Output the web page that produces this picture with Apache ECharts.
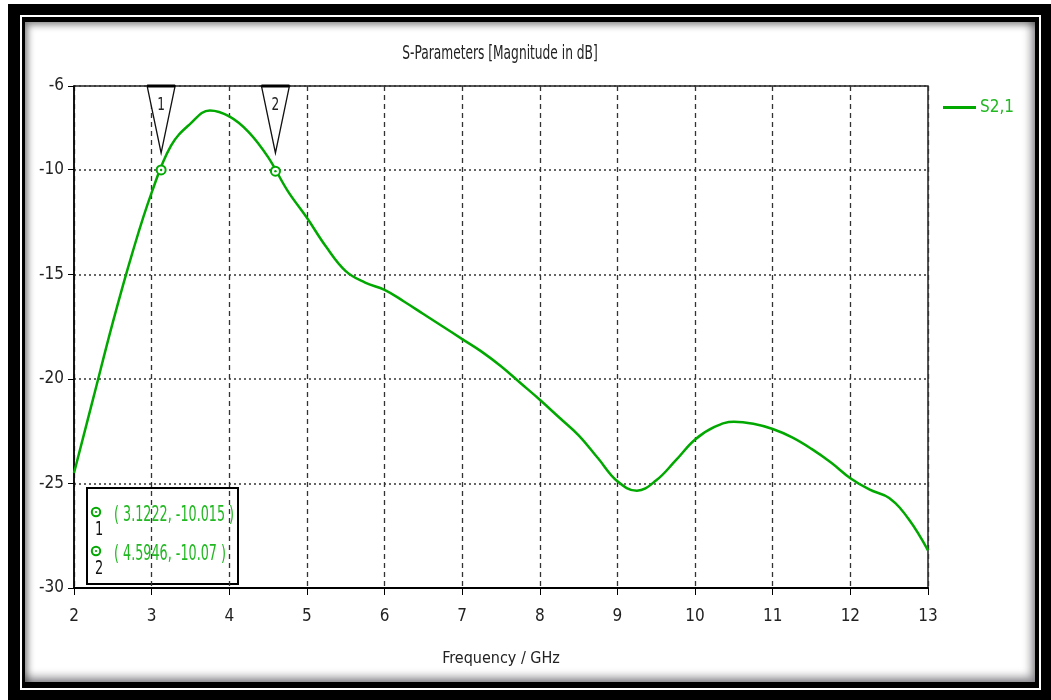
<!DOCTYPE html>
<html>
<head>
<meta charset="utf-8">
<script src="https://cdn.jsdelivr.net/npm/echarts@6/dist/echarts.min.js"></script>
<style>
  html, body { margin: 0; padding: 0; background: #fff; }
  #wrap { position: relative; width: 1051px; height: 700px; overflow: hidden; background: #fff; }
  .f { position: absolute; }
  #chart { position: absolute; left: 0; top: 0; width: 1051px; height: 700px; }
</style>
</head>
<body>
<div id="wrap">
  <div class="f" style="left:8px;top:4px;width:1043px;height:696px;background:#000;"></div>
  <div class="f" style="left:20px;top:15px;width:1021px;height:675px;background:#fff;"></div>
  <div class="f" style="left:22px;top:17px;width:1017px;height:671px;background:#000;"></div>
  <div class="f" style="left:25px;top:22px;width:1010px;height:660px;background:#fff;box-shadow: inset 3px 3px 7px rgba(0,0,0,0.45), inset -4px -5px 8px rgba(60,60,70,0.55);"></div>
  <div id="chart"></div>
</div>
<script>
// ---- data ----
const freqGHz = [2.0, 2.25, 2.5, 2.75, 3.0, 3.25, 3.5, 3.75, 4.0, 4.25, 4.5, 4.75,
  5.0, 5.25, 5.5, 5.75, 6.0, 6.25, 6.5, 6.75, 7.0, 7.25, 7.5, 7.75, 8.0, 8.25, 8.5, 8.75,
  9.0, 9.25, 9.5, 9.75, 10.0, 10.25, 10.5, 10.75, 11.0, 11.25, 11.5, 11.75, 12.0, 12.25,
  12.5, 12.75, 13.0];
const s21dB = [-24.5, -20.9, -17.3, -14.0, -11.1, -8.85, -7.8, -7.17, -7.45, -8.2, -9.4, -11.0,
  -12.3, -13.7, -14.85, -15.4, -15.75, -16.3, -16.9, -17.5, -18.1, -18.7, -19.4, -20.2, -21.0, -21.85, -22.7, -23.8,
  -24.9, -25.35, -24.85, -23.9, -22.9, -22.3, -22.05, -22.15, -22.4, -22.8, -23.35, -24.0, -24.75, -25.3,
  -25.7, -26.7, -28.2];
const markerIds = ['1', '2'];
const markerX = [3.1222, 4.5946];
const markerY = [-10.015, -10.07];
const seriesName = 'S2,1';
const titleText = 'S-Parameters [Magnitude in dB]';
const xAxisName = 'Frequency / GHz';

const GREEN = '#00a800';
const FONT = "'Liberation Sans Narrow', 'DejaVu Sans Condensed', 'Noto Sans', sans-serif";

const chart = echarts.init(document.getElementById('chart'), null, { renderer: 'canvas' });

const lineData = freqGHz.map((f, i) => [f, s21dB[i]]);
const markerData = markerX.map((x, i) => [x, markerY[i], markerIds[i]]);

// marker info box content
const boxLeft = 86, boxTop = 487;
const boxChildren = [
  { type: 'rect', shape: { x: 0, y: 0, width: 151, height: 96 },
    style: { fill: '#fff', stroke: '#000', lineWidth: 2 } }
];
markerIds.forEach((id, i) => {
  const cy = 24 + i * 39;
  boxChildren.push(
    { type: 'circle', shape: { cx: 9, cy: cy, r: 4.2 }, style: { fill: '#fff', stroke: GREEN, lineWidth: 2 } },
    { type: 'circle', shape: { cx: 9, cy: cy, r: 1.1 }, style: { fill: GREEN } },
    { type: 'text', x: 12, y: cy + 18, scaleX: 0.72, style: { text: id, fill: '#111', font: '20px ' + FONT, align: 'center', verticalAlign: 'middle' } },
    { type: 'text', x: 27, y: cy + 3, scaleX: 0.645, style: { text: '( ' + markerX[i] + ', ' + markerY[i] + ' )', fill: '#22b822', font: '22px ' + FONT, align: 'left', verticalAlign: 'middle' } }
  );
});

const option = {
  animation: false,
  grid: { left: 74, right: 123, top: 86, bottom: 112, show: true, borderColor: '#222', borderWidth: 1.5, backgroundColor: 'transparent' },
  graphic: [
    { type: 'text', x: 500, y: 54, scaleX: 0.68, style: { text: titleText, fill: '#222', font: '20px ' + FONT, align: 'center', verticalAlign: 'middle' } },
    { type: 'group', left: boxLeft, top: boxTop, z: 100, children: boxChildren }
  ],
  legend: {
    left: 943, top: 99, padding: 0,
    itemWidth: 33, itemHeight: 3, itemGap: 4,
    data: [{ name: seriesName, icon: 'rect' }],
    textStyle: { color: '#22b822', fontSize: 17, fontFamily: FONT, padding: [0, 0, 0, -1] }
  },
  xAxis: {
    type: 'value', min: 2, max: 13, interval: 1,
    name: xAxisName, nameLocation: 'middle', nameGap: 63,
    nameTextStyle: { color: '#222', fontSize: 16, fontFamily: FONT },
    axisLine: { show: true, onZero: false, lineStyle: { color: '#000', width: 2 } },
    axisTick: { show: true, inside: false, length: 7, lineStyle: { color: '#000', width: 1 } },
    axisLabel: { color: '#222', fontSize: 17, fontFamily: FONT, margin: 20 },
    splitLine: { show: true, lineStyle: { color: '#333', width: 1.3, type: [5, 4] } }
  },
  yAxis: {
    type: 'value', min: -30, max: -6, interval: 5,
    axisLine: { show: true, onZero: false, lineStyle: { color: '#000', width: 1.5 } },
    axisTick: { show: true, inside: false, length: 6, lineStyle: { color: '#000', width: 1 } },
    axisLabel: { color: '#222', fontSize: 17, fontFamily: FONT, margin: 10, showMaxLabel: true, showMinLabel: true },
    splitLine: { show: true, lineStyle: { color: '#333', width: 1.5, type: [2, 3] } }
  },
  series: [
    {
      name: seriesName, type: 'line', data: lineData,
      smooth: 0.4, showSymbol: false, symbol: 'none',
      lineStyle: { color: GREEN, width: 2.5 }, itemStyle: { color: GREEN },
      z: 5
    },
    {
      type: 'custom', name: 'markers', data: markerData, clip: false, z: 10,
      renderItem: function (params, api) {
        const p = api.coord([api.value(0), api.value(1)]);
        const top = params.coordSys.y;
        const label = markerIds[params.dataIndex];
        return {
          type: 'group',
          children: [
            { type: 'polygon', shape: { points: [[p[0] - 14, top], [p[0] + 14, top], [p[0], top + 67]] },
              style: { fill: '#fff', stroke: '#111', lineWidth: 1.3 } },
            { type: 'line', shape: { x1: p[0] - 14, y1: top, x2: p[0] + 14, y2: top },
              style: { stroke: '#000', lineWidth: 3 } },
            { type: 'text', x: p[0], y: top + 19, scaleX: 0.75,
              style: { text: label, fill: '#222', font: '18px ' + FONT, align: 'center', verticalAlign: 'middle' } },
            { type: 'circle', shape: { cx: p[0], cy: p[1], r: 4.5 }, style: { fill: '#fff', stroke: GREEN, lineWidth: 2 } },
            { type: 'circle', shape: { cx: p[0], cy: p[1], r: 1.2 }, style: { fill: GREEN } }
          ]
        };
      }
    }
  ]
};
chart.setOption(option);
</script>
</body>
</html>
